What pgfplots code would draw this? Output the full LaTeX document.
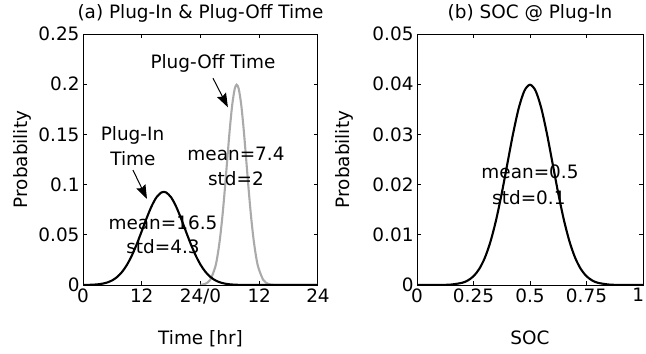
\documentclass[border=0pt]{standalone}
\usepackage{pgfplots}
\pgfplotsset{compat=1.18}
\usepackage{fontspec}
\setmainfont{DejaVu Sans}
\usetikzlibrary{arrows.meta}
\definecolor{lg}{RGB}{170,170,170}
\newcommand\fz{\fontsize{18.5}{22}\selectfont}
\tikzset{arr/.style={-{Stealth[length=14bp,width=10bp,inset=2bp]}, line width=1bp}}
\pgfplotsset{
  myax/.style={
    scale only axis, anchor=south west, height=251bp, ymin=0,
    /pgf/number format/assume math mode=true,
    /pgf/number format/fixed,
    /pgf/number format/precision=2,
    tick label style={font=\fz},
    scaled ticks=false,
    major tick length=4bp,
    axis line style={line width=1bp},
    every tick/.style={black, line width=1bp},
    every axis title/.style={at={(axis description cs:0.5,1)}, anchor=base, yshift=16bp, font=\fz},
    every axis x label/.style={at={([yshift=-59bp]axis description cs:0.5,0)}, anchor=base, font=\fz},
    ylabel={Probability},
    every node/.append style={font=\fz},
  },
  curve/.style={line width=2.1bp, smooth, no markers},
}
\begin{document}
\begin{tikzpicture}[font=\fz]
\path[use as bounding box] (0,0) rectangle (646bp,354bp);
% ---------------- (a) ----------------
\begin{axis}[myax, at={(83bp,69bp)}, width=235bp,
  xmin=0, xmax=48, ymax=0.25,
  xtick={0,12,24,36,48}, xticklabels={0,12,24/0,12,24},
  ytick={0,0.05,0.1,0.15,0.2,0.25},
  title={(a) Plug-In \& Plug-Off Time},
  xlabel={Time [hr]},
  every axis y label/.style={at={([xshift=-61bp]axis description cs:0,0.5)}, anchor=center, rotate=90, font=\fz},
]
\addplot[curve, lg] coordinates {
(24,0.000212) (25,0.001192) (26,0.005211) (27,0.017737) (27.5,0.029799)
(28,0.047025) (28.5,0.069717) (29,0.097093) (29.5,0.12703) (30,0.15613)
(30.5,0.18026) (31,0.19552) (31.4,0.19947) (31.8,0.19552) (32.3,0.18026)
(32.8,0.15613) (33.3,0.12703) (33.8,0.097093) (34.3,0.069717) (34.8,0.047025)
(35.3,0.029799) (35.8,0.017737) (36.8,0.005211) (37.8,0.001192) (38.8,0.000212)
(40,0.00002) (44,0) (48,0)
};
\addplot[curve, black] coordinates {
(0,0.000059) (1,0.000140) (2,0.000315) (3,0.000671) (4,0.001357) (5,0.002597)
(6,0.004706) (7,0.008084) (8,0.013151) (9,0.020271) (10,0.029599) (11,0.040944)
(12,0.053659) (13,0.066620) (14,0.078353) (15,0.087303) (16,0.092155) (16.5,0.092780)
(17,0.092155) (18,0.087303) (19,0.078353) (20,0.066620) (21,0.053659) (22,0.040944)
(23,0.029599) (24,0.020271) (25,0.013151) (26,0.008084) (27,0.004706) (28,0.002597)
(29,0.001357) (30,0.000671) (31,0.000315) (32,0.000140) (33,0.000059) (36,0.000003)
(40,0) (44,0) (48,0)
};
\node[anchor=base] at (axis cs:26.55,0.2158) {Plug-Off Time};
\draw[arr] (axis cs:26.55,0.206) -- (axis cs:29.6,0.177);
\node[anchor=base] at (axis cs:31.25,0.1245) {mean=7.4};
\node[anchor=base] at (axis cs:31.25,0.0996) {std=2};
\node[anchor=base] at (axis cs:10.11,0.1444) {Plug-In};
\node[anchor=base] at (axis cs:10.2,0.1195) {Time};
\draw[arr] (axis cs:10.2,0.1145) -- (axis cs:13.07,0.0857);
\node[anchor=base] at (axis cs:16.34,0.0548) {mean=16.5};
\node[anchor=base] at (axis cs:16.34,0.0316) {std=4.3};
\end{axis}
% ---------------- (b) ----------------
\begin{axis}[myax, at={(417bp,69bp)}, width=226bp,
  xmin=0, xmax=1, ymax=0.05,
  xtick={0,0.25,0.5,0.75,1},
  xticklabels={0,0.25,0.5,0.75,\hbox to 0pt{\hss 1\hskip -1bp}},
  ytick={0,0.01,0.02,0.03,0.04,0.05},
  title={(b) SOC @ Plug-In},
  xlabel={SOC},
  every axis y label/.style={at={([xshift=-73bp]axis description cs:0,0.5)}, anchor=center, rotate=90, font=\fz},
]
\addplot[curve, black] coordinates {
(0,0) (0.05,0) (0.1,0.0000134) (0.15,0.0000873) (0.2,0.000443) (0.225,0.000910)
(0.25,0.001753) (0.275,0.003174) (0.3,0.005399) (0.325,0.008628) (0.35,0.012952)
(0.375,0.018265) (0.4,0.024197) (0.425,0.030114) (0.45,0.035206) (0.475,0.038667)
(0.5,0.039894)
(0.525,0.038667) (0.55,0.035206) (0.575,0.030114) (0.6,0.024197) (0.625,0.018265)
(0.65,0.012952) (0.675,0.008628) (0.7,0.005399) (0.725,0.003174) (0.75,0.001753)
(0.775,0.000910) (0.8,0.000443) (0.85,0.0000873) (0.9,0.0000134) (0.95,0) (1,0)
};
\node[anchor=base] at (axis cs:0.5,0.02125) {mean=0.5};
\node[anchor=base] at (axis cs:0.495,0.01594) {std=0.1};
\end{axis}
\end{tikzpicture}
\end{document}
